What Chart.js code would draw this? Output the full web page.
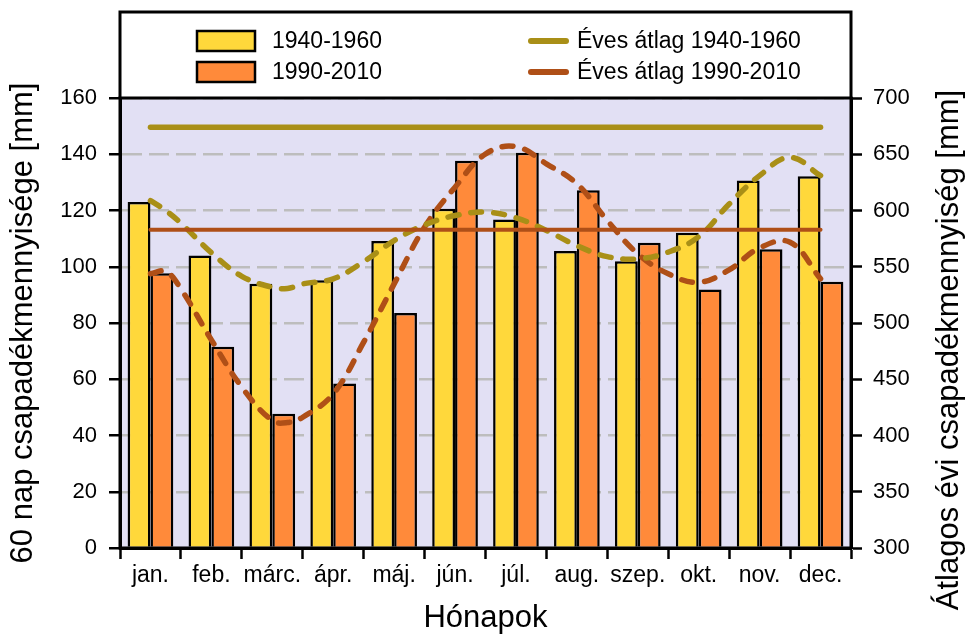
<!DOCTYPE html>
<html>
<head>
<meta charset="utf-8">
<script src="https://cdn.jsdelivr.net/npm/chart.js@4/dist/chart.umd.min.js"></script>
<style>body{margin:0;background:#fff}</style>
</head>
<body>
<canvas id="myChart" width="965" height="637"></canvas>
<script>
// havi 60 napos csapadék (mm), leolvasva
const months = ['jan.', 'feb.', 'márc.', 'ápr.', 'máj.', 'jún.', 'júl.', 'aug.', 'szep.', 'okt.', 'nov.', 'dec.'];
const rain1940 = [123.0, 104.0, 94.0, 95.2, 109.2, 120.6, 116.8, 105.6, 102.0, 112.1, 130.7, 132.2];
const rain1990 = [97.7, 71.6, 47.7, 58.5, 83.6, 137.7, 140.5, 127.2, 108.5, 91.9, 106.2, 94.7];

// simított görbék (szaggatott), hónap-index szerint
const trendPos = [0, 0.25, 0.5, 1, 1.5, 2, 2.25, 2.5, 3, 3.5, 4, 4.5, 5, 5.5, 6, 6.5, 7, 7.5, 8, 8.5, 9, 9.5, 10, 10.5, 11];
const trend1940 = [123.5, 120, 115.5, 105, 96.6, 92.7, 92.3, 93.9, 95.7, 101.8, 109.3, 114.9, 118.2, 119.4, 117.4, 112.9, 107.5, 103.6, 102.8, 105.2, 110.7, 122.3, 132.4, 138.9, 132.4];
const trend1990 = [97.5, 98.3, 92.1, 74, 57.2, 45.3, 44.6, 46.5, 54.8, 73.2, 93.9, 114.1, 128.3, 140.1, 142.7, 136.6, 129.5, 116.4, 104.6, 97.5, 94.5, 98.9, 106.7, 108.7, 95.7];

// éves átlagok (jobb tengely)
const avg1940 = 674;
const avg1990 = 583;

const FONT = '"Liberation Sans", Arial, sans-serif';

function pts(xs, ys) {
    return xs.map(function (x, i) { return {x: x, y: ys[i]}; });
}
const avgLine = function (v) {
    return [{x: 0, y: v}, {x: months.length - 1, y: v}];
};

const framePlugin = {
    id: 'frame',
    beforeDraw: function (chart) {
        const a = chart.chartArea, ctx = chart.ctx;
        ctx.save();
        ctx.fillStyle = '#E2E0F4';
        ctx.fillRect(a.left, a.top, a.right - a.left, a.bottom - a.top);
        ctx.restore();
    },
    afterDraw: function (chart) {
        const a = chart.chartArea, ctx = chart.ctx;
        ctx.save();
        ctx.strokeStyle = '#000';
        ctx.lineWidth = 3;
        ctx.strokeRect(a.left, a.top, a.right - a.left, a.bottom - a.top);
        // legend box
        ctx.beginPath();
        ctx.moveTo(a.left, a.top);
        ctx.lineTo(a.left, 12);
        ctx.lineTo(a.right, 12);
        ctx.lineTo(a.right, a.top);
        ctx.stroke();

        const ds = chart.data.datasets;
        const colX = [197, 528], rowY = [41, 72];
        ctx.font = '23px ' + FONT;
        ctx.textBaseline = 'middle';
        ctx.textAlign = 'left';
        for (let i = 0; i < 4; i++) {
            const x = colX[i >> 1], y = rowY[i % 2];
            if (i < 2) {
                ctx.fillStyle = ds[i].backgroundColor;
                ctx.fillRect(x, y - 10, 58, 20);
                ctx.lineWidth = 2.5;
                ctx.strokeStyle = '#000';
                ctx.strokeRect(x, y - 10, 58, 20);
                ctx.fillStyle = '#000';
                ctx.fillText(ds[i].label, x + 75, y + 1);
            } else {
                ctx.strokeStyle = ds[i].borderColor;
                ctx.lineWidth = 6;
                ctx.lineCap = 'round';
                ctx.beginPath();
                ctx.moveTo(x + 3, y);
                ctx.lineTo(x + 38, y);
                ctx.stroke();
                ctx.fillStyle = '#000';
                ctx.fillText(ds[i].label, x + 49, y + 1);
            }
        }

        // jobb tengely címe
        ctx.translate(949, 350);
        ctx.rotate(-Math.PI / 2);
        ctx.font = '31px ' + FONT;
        ctx.textAlign = 'center';
        ctx.fillStyle = '#000';
        ctx.fillText('Átlagos évi csapadékmennyiség [mm]', 0, 0);
        ctx.restore();
    }
};

const ctx = document.getElementById('myChart').getContext('2d');
const myChart = new Chart(ctx, {
    type: 'bar',
    data: {
        labels: months,
        datasets: [{
            label: '1940-1960',
            data: rain1940,
            backgroundColor: '#FFD83B',
            borderColor: '#000',
            borderWidth: 2.5,
            order: 3
        }, {
            label: '1990-2010',
            data: rain1990,
            backgroundColor: '#FF8A3A',
            borderColor: '#000',
            borderWidth: 2.5,
            order: 3
        }, {
            type: 'line',
            label: 'Éves átlag 1940-1960',
            data: avgLine(avg1940),
            parsing: false,
            yAxisID: 'y2',
            borderColor: '#A98F17',
            borderWidth: 5.5,
            borderCapStyle: 'round',
            pointRadius: 0,
            order: 1
        }, {
            type: 'line',
            label: 'Éves átlag 1990-2010',
            data: avgLine(avg1990),
            parsing: false,
            yAxisID: 'y2',
            borderColor: '#AF4F17',
            borderWidth: 4,
            borderCapStyle: 'round',
            pointRadius: 0,
            order: 1
        }, {
            type: 'line',
            label: 'trend 1940-1960',
            data: pts(trendPos, trend1940),
            parsing: false,
            yAxisID: 'y',
            borderColor: '#A98F17',
            borderWidth: 5.5,
            borderDash: [11, 12],
            borderCapStyle: 'round',
            tension: 0.4,
            pointRadius: 0,
            order: 2
        }, {
            type: 'line',
            label: 'trend 1990-2010',
            data: pts(trendPos, trend1990),
            parsing: false,
            yAxisID: 'y',
            borderColor: '#AF4F17',
            borderWidth: 5.5,
            borderDash: [11, 12],
            borderCapStyle: 'round',
            tension: 0.4,
            pointRadius: 0,
            order: 2
        }]
    },
    options: {
        responsive: false,
        animation: false,
        layout: {padding: {top: 98, left: 0, right: 0, bottom: 0}},
        datasets: {
            bar: {categoryPercentage: 0.75, barPercentage: 1}
        },
        plugins: {
            legend: {display: false},
            tooltip: {enabled: false}
        },
        scales: {
            x: {
                afterFit: function (s) { s.height = 89; },
                grid: {drawOnChartArea: false, offset: true, tickLength: 11, tickColor: '#000', tickWidth: 2.5},
                border: {color: '#000', width: 3},
                ticks: {color: '#000', font: {family: FONT, size: 23}, padding: 3, maxRotation: 0},
                title: {display: true, text: 'Hónapok', color: '#000', font: {family: FONT, size: 31}, padding: {top: 0, bottom: 0}}
            },
            y: {
                position: 'left',
                min: 0,
                max: 160,
                afterFit: function (s) { s.width = 120; },
                ticks: {stepSize: 20, color: '#000', font: {family: FONT, size: 22}, padding: 12},
                grid: {color: '#BDBDBD', lineWidth: 2.5, tickLength: 11, tickColor: '#000', tickWidth: 2.5, tickBorderDash: []},
                border: {color: '#000', width: 3, dash: [20, 7]},
                title: {display: true, text: '60 nap csapadékmennyisége [mm]', color: '#000', font: {family: FONT, size: 31}, padding: {top: 5, bottom: 0}}
            },
            y2: {
                position: 'right',
                min: 300,
                max: 700,
                afterFit: function (s) { s.width = 114; },
                ticks: {stepSize: 50, color: '#000', font: {family: FONT, size: 22}, padding: 11},
                grid: {drawOnChartArea: false, tickLength: 11, tickColor: '#000', tickWidth: 2.5},
                border: {color: '#000', width: 3}
            }
        }
    },
    plugins: [framePlugin]
});
</script>
</body>
</html>
